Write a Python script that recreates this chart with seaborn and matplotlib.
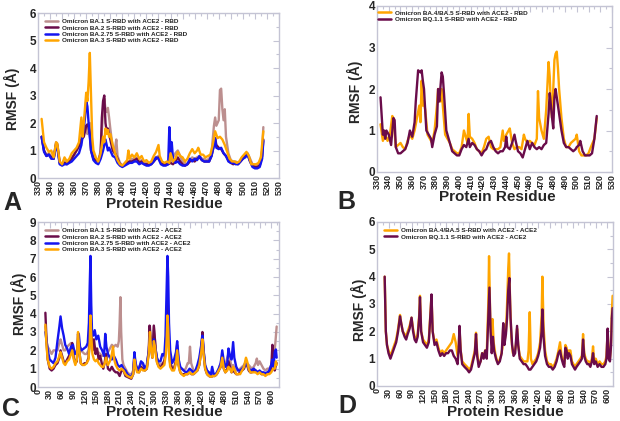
import numpy as np
import pandas as pd
import seaborn as sns
import matplotlib
matplotlib.use("Agg")
import matplotlib.pyplot as plt
from matplotlib.ticker import MultipleLocator
from matplotlib.lines import Line2D

sns.set_theme(style="white")
plt.rcParams['font.family'] = ['Liberation Sans', 'DejaVu Sans']
plt.rcParams['font.weight'] = 'bold'

# ---------------- Panel A : RBD (residue, RMSF) ----------------
A_BA1 = [(333,1.5),(335,1.0),(337,0.85),(339,0.9),(341,0.8),(343,0.7),(345,1.3),(346,1.25),(348,0.55),(350,0.5),
         (352,0.6),(354,0.55),(356,0.65),(358,0.75),(360,0.85),(362,1.0),(364,1.2),(366,1.5),(368,1.6),(370,1.9),
         (371,1.6),(372,1.8),(373,2.0),(374,1.4),(376,0.8),(378,0.7),(380,0.6),(382,1.0),(384,2.4),(385,2.9),
         (386,2.5),(387,2.4),(388,2.55),(389,2.2),(390,1.8),(392,1.1),(393,0.9),(394,1.1),(395,1.4),(396,0.8),
         (398,0.55),(400,0.45),(402,0.5),(404,0.6),(406,0.6),(408,0.7),(410,0.7),(412,0.75),(414,0.6),(416,0.65),
         (418,0.55),(420,0.55),(422,0.5),(424,0.55),(426,0.7),(428,0.75),(430,0.8),(432,0.6),(434,0.55),(436,0.5),
         (438,0.55),(440,0.6),(442,0.75),(444,0.9),(446,1.0),(448,0.8),(450,0.6),(452,0.55),(454,0.5),(456,0.65),
         (458,0.75),(460,0.7),(462,0.75),(464,0.8),(466,0.7),(468,0.7),(470,0.65),(472,0.7),(474,0.9),(476,1.9),
         (477,2.2),(478,1.9),(480,2.1),(481,3.2),(482,3.25),(483,2.5),(484,2.1),(485,2.5),(486,1.5),(488,0.9),
         (490,0.65),(492,0.6),(494,0.6),(496,0.55),(498,0.6),(500,0.75),(502,0.85),(504,0.9),(506,0.7),(508,0.5),
         (510,0.45),(512,0.45),(514,0.5),(516,1.0),(517,1.85)]
A_BA2 = [(333,1.5),(335,1.0),(337,0.8),(339,0.85),(341,0.75),(343,0.7),(345,1.25),(346,1.2),(348,0.55),(350,0.5),
         (352,0.55),(354,0.5),(356,0.6),(358,0.7),(360,0.85),(362,1.0),(364,1.15),(366,1.4),(368,1.5),(370,1.9),
         (371,1.95),(372,1.85),(373,1.6),(374,1.0),(376,0.7),(378,0.65),(380,0.6),(382,0.9),(383,2.2),(384,2.8),
         (385,3.0),(386,2.0),(387,1.7),(388,1.8),(389,1.6),(390,1.4),(392,1.0),(394,0.9),(396,0.7),(398,0.5),
         (400,0.45),(402,0.5),(404,0.55),(406,0.6),(408,0.6),(410,0.65),(412,0.7),(414,0.55),(416,0.6),(418,0.5),
         (420,0.5),(422,0.5),(424,0.5),(426,0.6),(428,0.7),(430,0.75),(432,0.55),(434,0.5),(436,0.5),(438,0.5),
         (440,0.55),(442,0.5),(444,0.6),(446,0.75),(448,0.6),(450,0.5),(452,0.45),(454,0.5),(456,0.6),(458,0.65),
         (460,0.6),(462,0.7),(464,0.75),(466,0.65),(468,0.6),(470,0.6),(472,0.6),(474,0.8),(476,1.2),(477,1.45),
         (478,1.2),(480,1.1),(482,1.05),(484,0.9),(486,0.8),(488,0.65),(490,0.55),(492,0.5),(494,0.55),(496,0.5),
         (498,0.6),(500,0.7),(502,0.8),(504,0.85),(506,0.6),(508,0.45),(510,0.4),(512,0.4),(514,0.45),(516,0.8),(517,1.4)]
A_BA275 = [(333,1.5),(335,0.95),(337,0.8),(339,0.85),(341,0.7),(343,0.7),(345,1.2),(346,1.1),(348,0.5),(350,0.45),
           (352,0.5),(354,0.5),(356,0.55),(358,0.6),(360,0.7),(362,0.8),(364,0.9),(366,1.2),(368,1.8),(369,2.2),
           (370,2.8),(371,2.6),(372,2.0),(373,1.5),(374,1.0),(376,0.65),(378,0.55),(380,0.5),(382,0.7),(384,1.0),
           (386,1.4),(387,1.2),(388,1.0),(389,1.1),(390,1.0),(392,0.8),(394,0.75),(396,0.55),(398,0.45),(400,0.4),
           (402,0.45),(404,0.5),(406,0.55),(408,0.55),(410,0.6),(412,0.6),(414,0.5),(416,0.55),(418,0.5),(420,0.45),
           (422,0.45),(424,0.5),(426,0.6),(428,0.75),(430,0.7),(432,0.5),(434,0.45),(436,0.45),(438,0.5),(439,1.85),
           (440,0.9),(441,1.3),(442,0.7),(444,0.55),(446,0.6),(448,0.5),(450,0.45),(452,0.45),(454,0.5),(456,0.7),
           (458,0.6),(460,0.7),(462,0.65),(464,0.8),(466,0.65),(468,0.6),(470,0.6),(472,0.6),(474,0.8),(476,1.2),
           (477,1.45),(478,1.1),(480,1.05),(482,1.1),(484,0.9),(486,0.8),(488,0.6),(490,0.55),(492,0.55),(494,0.5),
           (496,0.5),(498,0.6),(500,0.7),(502,0.75),(504,0.85),(506,0.6),(508,0.4),(510,0.35),(512,0.35),(514,0.4),
           (516,0.7),(517,1.35)]
A_BA3 = [(333,2.15),(335,1.3),(337,1.1),(339,0.95),(341,1.0),(343,0.75),(345,1.3),(346,1.25),(348,0.6),(350,0.5),
         (352,0.75),(354,0.6),(356,0.7),(358,0.9),(360,1.0),(362,1.1),(364,1.3),(366,2.2),(367,1.5),(368,2.0),
         (370,3.1),(371,2.8),(372,3.5),(373,4.55),(374,3.0),(375,1.5),(376,1.0),(378,0.75),(380,0.6),(382,0.9),
         (384,1.5),(385,1.3),(386,1.8),(387,1.6),(388,1.75),(389,1.5),(390,1.6),(392,1.2),(394,0.9),(396,0.65),
         (398,0.5),(400,0.45),(402,0.55),(404,0.65),(405,1.0),(406,0.7),(408,0.85),(410,0.75),(412,0.9),(414,0.7),
         (416,0.8),(418,0.6),(420,0.65),(422,0.55),(424,0.6),(426,0.8),(428,0.95),(430,1.2),(431,0.8),(433,0.6),
         (435,0.55),(437,0.6),(439,0.55),(440,0.9),(442,0.6),(444,0.7),(446,0.95),(448,0.8),(450,0.75),(452,0.6),
         (454,0.7),(456,0.9),(458,1.05),(460,0.9),(462,1.0),(463,1.1),(465,0.85),(467,0.85),(469,0.75),(471,0.8),
         (473,0.85),(475,1.2),(477,1.7),(479,1.45),(481,1.5),(483,1.4),(485,1.2),(487,0.95),(489,0.7),(491,0.6),
         (493,0.6),(495,0.55),(497,0.6),(499,0.75),(501,0.85),(503,0.95),(505,0.8),(507,0.5),(509,0.5),(511,0.5),
         (513,0.55),(515,0.75),(517,1.7)]

# ---------------- Panel B : RBD ----------------
B_BA45 = [(333,1.15),(335,0.75),(337,0.9),(339,0.75),(341,0.9),(343,1.35),(344,1.3),(346,0.6),(348,0.65),(350,0.7),
          (352,0.6),(354,0.55),(356,0.75),(358,0.9),(360,0.8),(362,1.0),(364,1.3),(366,1.6),(367,1.2),(368,2.2),
          (369,1.6),(370,1.7),(371,1.5),(373,0.9),(375,0.8),(377,0.7),(379,1.0),(381,1.6),(382,2.0),(384,1.7),
          (385,2.0),(386,1.6),(388,0.9),(390,0.8),(392,0.7),(394,0.55),(396,0.5),(398,0.45),(400,0.45),(402,0.6),
          (404,1.0),(405,0.9),(407,0.7),(408,1.4),(409,0.85),(411,0.8),(413,0.7),(415,0.55),(417,0.5),(419,0.45),
          (421,0.6),(423,0.8),(425,0.85),(427,0.6),(429,0.55),(431,0.55),(433,0.55),(435,0.6),(437,1.0),(438,0.75),
          (440,0.9),(442,1.0),(443,1.05),(445,0.7),(447,0.55),(449,0.6),(451,0.6),(453,0.55),(455,0.9),(456,0.8),
          (458,0.7),(460,0.75),(462,0.7),(464,0.65),(466,0.8),(467,1.95),(468,1.3),(470,1.0),(472,0.8),(474,1.5),
          (476,2.65),(477,2.3),(478,1.6),(479,1.3),(480,2.0),(481,2.7),(482,2.85),(483,2.9),(484,2.5),(485,2.0),
          (487,1.3),(489,0.8),(491,0.6),(493,0.6),(495,0.7),(497,0.75),(499,0.8),(500,0.9),(502,0.5),(504,0.4),
          (506,0.4),(508,0.4),(510,0.45),(512,0.6),(515,0.8),(517,1.3)]
B_BQ11 = [(333,1.8),(335,0.9),(336,1.0),(337,0.8),(338,1.0),(340,0.9),(342,0.65),(344,1.3),(345,1.25),(346,0.6),
          (348,0.45),(350,0.45),(352,0.5),(354,0.55),(356,0.7),(358,1.0),(360,0.85),(362,1.2),(363,1.7),(365,2.45),
          (367,2.4),(368,2.45),(369,2.2),(370,2.0),(372,1.0),(374,0.9),(376,0.8),(377,0.6),(379,0.9),(381,1.1),
          (382,2.0),(383,1.7),(385,2.4),(386,2.3),(387,1.9),(389,1.0),(391,0.8),(393,0.6),(394,0.5),(396,0.45),
          (398,0.4),(400,0.4),(402,0.55),(404,0.65),(406,0.6),(408,0.8),(409,0.6),(411,0.7),(413,0.65),(415,0.55),
          (417,0.5),(419,0.4),(421,0.5),(423,0.55),(425,0.7),(427,0.75),(429,0.6),(431,0.5),(433,0.45),(435,0.5),
          (437,0.5),(439,0.6),(440,0.85),(441,0.6),(443,0.55),(445,0.7),(447,0.9),(448,0.75),(450,0.5),(452,0.45),
          (454,0.35),(456,0.55),(458,0.75),(460,0.55),(462,0.7),(464,0.6),(466,0.55),(468,0.6),(470,0.55),(472,0.65),
          (474,0.7),(476,1.4),(477,1.9),(478,1.6),(479,1.3),(480,1.05),(481,1.8),(482,2.0),(483,1.8),(485,1.4),
          (487,1.0),(489,0.7),(491,0.6),(493,0.6),(495,0.55),(497,0.5),(499,0.55),(500,0.6),(502,0.65),(503,0.75),
          (505,0.5),(507,0.4),(509,0.4),(511,0.4),(513,0.45),(515,0.8),(517,1.35)]

# ---------------- Panel C : ACE2 ----------------
C_BA1 = [(19,3.3),(22,2.5),(25,2.2),(30,2.0),(35,1.8),(40,2.0),(45,2.0),(50,2.0),(55,2.4),(58,2.6),(62,2.3),(66,2.0),
         (70,2.0),(75,2.2),(80,2.3),(85,2.4),(90,2.0),(95,1.8),(100,2.0),(105,2.4),(110,2.0),(115,1.9),(120,1.8),
         (125,1.8),(130,2.0),(133,2.6),(135,3.2),(138,2.5),(142,2.0),(146,2.2),(150,2.0),(155,1.9),(160,1.8),(165,1.7),
         (170,1.7),(175,1.6),(180,1.9),(185,2.1),(190,2.3),(195,2.2),(200,2.3),(205,2.2),(208,2.5),(210,3.5),(212,4.9),
         (214,3.0),(217,1.5),(220,1.2),(225,1.0),(230,0.8),(235,0.7),(240,0.7),(245,0.9),(248,1.6),(251,1.2),(255,1.0),
         (260,1.1),(265,1.3),(270,1.2),(275,1.0),(280,1.1),(285,2.0),(288,3.3),(292,2.2),(296,2.0),(298,3.3),(301,2.5),
         (305,1.5),(310,1.3),(315,1.2),(320,1.3),(325,1.3),(328,2.0),(331,3.2),(333,3.8),(335,3.3),(337,2.0),(340,1.3),
         (345,1.1),(350,1.0),(355,1.5),(358,2.0),(362,1.2),(366,1.0),(370,1.0),(375,0.9),(380,1.0),(385,1.3),(388,1.3),
         (391,2.2),(394,1.3),(400,0.9),(405,0.9),(410,1.0),(415,1.4),(420,2.2),(423,2.7),(426,1.8),(430,1.1),(435,0.8),
         (440,0.7),(445,0.6),(450,0.7),(455,0.7),(460,0.8),(465,1.0),(470,1.3),(474,1.7),(478,1.2),(482,1.2),(487,1.6),
         (490,1.8),(494,1.5),(498,1.1),(502,1.2),(506,1.0),(510,0.9),(515,0.9),(520,1.0),(525,1.1),(530,1.2),(535,1.4),
         (538,1.3),(542,1.2),(546,1.1),(550,1.0),(555,1.1),(560,1.3),(563,1.55),(566,1.2),(570,1.4),(575,1.2),(580,1.0),
         (585,0.9),(590,1.0),(595,1.0),(600,1.2),(605,1.3),(608,1.8),(611,2.5),(614,3.3)]
C_BA2 = [(19,4.05),(22,2.5),(25,1.5),(30,1.0),(35,0.9),(40,1.0),(45,1.2),(50,1.3),(55,1.6),(58,2.0),(62,1.7),(66,1.4),
         (70,1.3),(75,1.5),(80,1.7),(85,1.9),(88,2.4),(92,1.6),(96,1.3),(100,1.4),(103,2.9),(106,2.0),(110,1.3),
         (115,1.2),(120,1.3),(125,1.3),(130,1.6),(133,2.5),(135,4.05),(137,3.0),(140,2.0),(144,2.6),(148,1.8),(152,2.1),
         (156,1.5),(160,1.7),(164,1.3),(168,1.0),(172,1.4),(175,1.8),(180,1.0),(185,0.9),(190,1.1),(195,0.9),(200,0.8),
         (205,0.8),(210,0.6),(215,0.9),(220,0.9),(225,0.6),(230,0.55),(235,0.5),(240,0.45),(245,0.7),(248,1.75),
         (251,1.2),(255,0.9),(260,0.8),(265,1.1),(270,1.0),(275,0.9),(280,1.0),(285,2.0),(287,3.35),(290,2.4),(294,1.6),
         (298,3.35),(300,2.8),(303,2.0),(307,1.3),(312,1.1),(317,1.1),(322,1.3),(326,1.5),(329,2.2),(331,3.5),(333,5.0),
         (335,4.0),(337,2.2),(340,1.3),(345,1.0),(350,1.0),(355,1.4),(358,2.3),(362,1.2),(366,0.8),(370,0.7),(375,0.7),
         (380,0.7),(385,0.7),(390,0.8),(395,0.7),(400,0.7),(405,0.8),(410,0.9),(415,1.2),(420,2.0),(423,3.0),(426,2.0),
         (430,1.0),(435,0.7),(440,0.6),(445,0.55),(450,0.6),(455,0.6),(460,0.7),(465,0.9),(470,1.1),(474,1.5),(478,1.0),
         (482,0.8),(487,1.0),(490,1.4),(494,1.1),(498,0.8),(502,0.9),(506,0.8),(510,0.7),(515,0.7),(520,0.8),(525,0.9),
         (530,1.0),(535,1.3),(538,1.2),(542,0.9),(546,0.8),(550,0.8),(555,0.9),(560,0.9),(565,0.8),(570,0.8),(575,0.7),
         (580,0.7),(585,0.7),(590,0.7),(595,0.8),(600,1.0),(603,2.3),(606,1.3),(609,0.9),(612,1.2),(614,1.3)]
C_BA275 = [(19,3.0),(25,2.0),(30,1.5),(40,1.3),(45,1.6),(50,2.5),(55,3.3),(58,3.85),(62,3.2),(66,2.8),(70,2.3),
           (75,2.1),(80,1.8),(85,2.2),(90,2.3),(95,1.8),(100,1.9),(105,2.9),(108,2.2),(112,2.0),(118,2.1),(124,2.2),
           (128,2.4),(131,3.5),(133,5.5),(135,7.15),(137,4.5),(139,3.0),(142,2.8),(146,3.1),(150,2.6),(155,2.8),
           (160,2.2),(165,2.0),(170,1.7),(173,2.9),(176,2.2),(180,1.8),(185,1.6),(190,1.5),(195,1.7),(200,1.5),
           (205,1.2),(210,1.1),(215,1.2),(220,1.0),(225,0.9),(230,0.7),(235,0.6),(240,0.55),(245,0.8),(248,1.9),
           (251,1.3),(255,1.0),(260,1.0),(265,1.4),(270,1.3),(275,1.0),(280,1.2),(285,2.0),(288,2.8),(292,2.0),
           (295,2.2),(298,2.6),(302,2.1),(306,1.6),(310,1.4),(315,1.4),(320,1.8),(325,1.7),(328,2.8),(331,5.5),
           (333,7.15),(335,6.0),(337,3.5),(340,2.0),(345,1.3),(350,1.5),(355,1.9),(358,2.5),(362,1.5),(366,1.1),
           (370,1.0),(375,0.9),(380,0.8),(385,0.85),(390,1.0),(395,0.9),(400,0.8),(405,0.9),(410,1.2),(415,1.6),
           (420,2.3),(423,2.8),(426,2.0),(430,1.2),(435,0.9),(440,0.8),(445,0.7),(448,1.1),(452,0.7),(458,0.7),
           (465,1.0),(470,1.3),(474,2.0),(478,1.4),(482,1.1),(487,1.3),(490,2.1),(494,1.7),(498,1.5),(502,2.45),
           (505,1.6),(510,1.1),(515,0.9),(520,0.9),(525,1.0),(530,1.1),(535,1.4),(538,1.2),(542,1.0),(548,0.9),
           (555,1.0),(560,0.9),(565,0.8),(570,0.9),(575,0.8),(580,0.8),(585,0.75),(590,0.8),(595,0.9),(600,1.2),
           (603,1.5),(606,1.1),(609,1.9),(612,2.05),(614,1.6)]
C_BA3 = [(19,3.4),(22,2.2),(25,1.5),(30,1.1),(35,1.0),(40,1.1),(45,1.3),(50,1.4),(55,1.7),(58,1.9),(62,1.6),(66,1.3),
         (70,1.2),(75,1.4),(80,1.5),(85,1.8),(88,2.0),(92,1.5),(96,1.2),(100,1.5),(103,3.0),(106,2.0),(110,1.3),
         (115,1.2),(120,1.2),(125,1.3),(130,1.5),(133,2.4),(135,3.9),(137,2.8),(140,1.8),(144,1.5),(148,1.4),(152,1.5),
         (156,1.3),(160,1.2),(164,1.1),(168,1.1),(172,1.3),(175,1.6),(180,1.2),(185,1.4),(190,1.8),(193,2.2),(196,1.5),
         (200,1.2),(205,1.0),(210,0.9),(215,1.0),(220,0.9),(225,0.7),(230,0.6),(235,0.55),(240,0.5),(245,0.7),
         (248,1.5),(251,1.1),(255,0.8),(260,0.8),(265,1.0),(270,0.9),(275,0.9),(280,1.0),(285,1.8),(288,3.0),
         (291,2.0),(295,1.6),(298,2.5),(301,2.2),(305,1.4),(310,1.1),(315,1.0),(320,1.1),(325,1.2),(329,1.8),
         (331,2.6),(333,3.9),(335,3.2),(337,1.8),(340,1.1),(345,0.9),(350,0.9),(355,1.3),(358,2.0),(362,1.1),
         (366,0.8),(370,0.7),(375,0.6),(380,0.7),(385,0.7),(390,0.8),(395,0.7),(400,0.7),(405,0.8),(410,0.9),
         (415,1.2),(420,1.9),(423,2.6),(426,1.8),(430,1.0),(435,0.7),(440,0.6),(445,0.55),(450,0.6),(455,0.6),
         (460,0.7),(465,0.9),(470,1.1),(474,1.6),(478,1.0),(482,0.8),(487,0.9),(490,1.1),(494,1.0),(498,0.8),
         (502,1.1),(506,0.9),(510,0.7),(515,0.7),(520,0.7),(525,0.9),(530,1.1),(535,1.6),(538,1.4),(542,1.0),
         (546,0.8),(550,0.8),(555,0.8),(560,0.8),(565,0.7),(570,0.8),(575,0.7),(580,0.7),(585,0.6),(590,0.7),
         (595,0.7),(600,0.8),(605,1.0),(609,1.0),(612,1.4),(614,1.2)]

# ---------------- Panel D : ACE2 ----------------
D_BA45 = [(20,4.0),(23,2.0),(26,1.5),(30,1.3),(35,1.1),(40,1.3),(45,1.5),(50,1.7),(55,2.1),(60,2.6),(63,2.3),(67,2.0),
          (72,1.9),(76,1.8),(80,2.0),(85,2.2),(90,2.5),(94,2.1),(98,1.8),(102,1.7),(106,1.9),(110,2.6),(112,3.3),
          (115,2.0),(120,1.7),(125,1.6),(130,1.5),(135,1.7),(140,2.8),(142,3.3),(145,2.0),(150,1.6),(155,1.7),(160,1.4),
          (165,1.2),(170,1.3),(175,1.2),(180,1.3),(185,1.4),(190,1.5),(195,1.6),(200,1.9),(205,1.6),(210,1.1),(213,1.5),
          (215,2.1),(218,1.3),(222,0.9),(228,0.8),(235,0.7),(240,0.6),(245,0.7),(250,1.0),(255,1.3),(258,1.95),
          (261,1.2),(265,0.8),(270,0.9),(274,1.2),(278,1.1),(282,1.3),(286,1.2),(290,3.0),(292,4.75),(295,2.5),
          (298,1.8),(301,2.45),(304,1.6),(308,1.2),(313,0.9),(318,0.9),(323,1.1),(327,1.4),(329,2.25),(332,1.6),
          (336,2.0),(339,3.0),(342,4.3),(344,4.85),(347,3.0),(350,1.8),(354,1.2),(358,1.2),(362,1.5),(365,2.1),
          (368,1.5),(372,1.1),(377,1.0),(382,0.9),(387,0.9),(392,0.9),(395,1.3),(398,2.7),(401,1.0),(405,0.8),
          (410,0.9),(415,1.0),(420,1.2),(425,1.6),(429,2.6),(431,4.0),(434,2.2),(438,1.3),(443,0.9),(448,0.8),
          (453,0.8),(458,0.7),(463,0.8),(468,1.0),(473,1.3),(477,1.6),(481,1.1),(485,0.9),(488,0.8),(491,1.5),
          (494,1.4),(497,1.1),(500,1.3),(504,1.3),(508,0.9),(512,0.8),(516,0.7),(520,0.8),(525,0.9),(530,1.0),
          (534,1.1),(537,1.9),(540,1.2),(544,1.0),(548,0.9),(552,0.9),(556,0.8),(560,1.0),(563,1.45),(566,0.9),
          (570,1.0),(575,0.8),(580,0.9),(585,0.8),(590,0.8),(595,0.9),(598,1.1),(601,2.0),(604,1.1),(607,1.0),
          (610,1.6),(612,2.7),(614,3.3)]
D_BQ11 = [(20,4.0),(23,2.0),(26,1.5),(30,1.2),(35,1.0),(40,1.2),(45,1.4),(50,1.6),(55,2.0),(60,2.55),(63,2.3),(67,2.0),
          (72,1.8),(76,1.7),(80,1.9),(85,2.1),(90,2.5),(94,2.0),(98,1.7),(102,1.6),(106,1.8),(110,2.5),(112,3.25),
          (115,2.0),(120,1.6),(125,1.5),(130,1.4),(135,1.6),(140,2.8),(142,3.35),(145,2.0),(150,1.5),(155,1.6),
          (160,1.3),(165,1.1),(170,1.2),(175,1.1),(180,1.2),(185,1.2),(190,1.3),(195,1.3),(200,1.1),(205,1.0),
          (210,0.8),(213,1.4),(215,2.2),(218,1.3),(222,0.8),(228,0.7),(235,0.6),(240,0.5),(245,0.6),(250,0.9),
          (255,1.2),(258,1.9),(261,1.1),(265,0.7),(270,0.9),(274,1.2),(278,1.0),(282,1.3),(286,1.0),(290,2.5),
          (293,3.6),(296,2.0),(299,1.2),(302,1.8),(305,1.3),(310,1.0),(315,0.8),(320,0.9),(325,1.2),(329,2.3),
          (332,1.5),(336,1.9),(339,2.5),(342,3.5),(345,3.95),(348,2.5),(352,1.5),(356,1.1),(360,1.2),(365,2.2),
          (368,1.5),(372,1.0),(377,0.9),(382,0.8),(387,0.8),(392,0.7),(396,0.6),(400,0.6),(405,0.7),(410,0.8),
          (415,0.9),(420,1.1),(425,1.4),(429,2.0),(431,2.8),(434,1.8),(438,1.1),(443,0.8),(448,0.7),(453,0.7),
          (458,0.6),(463,0.7),(468,0.9),(473,1.2),(477,1.3),(481,1.0),(485,0.8),(488,0.7),(491,1.4),(494,1.3),
          (497,1.0),(500,1.2),(504,1.1),(508,0.8),(512,0.7),(516,0.6),(520,0.7),(525,0.8),(530,0.9),(534,1.0),
          (537,1.7),(540,1.1),(544,0.9),(548,0.8),(552,0.8),(556,0.7),(560,0.9),(563,1.2),(566,0.8),(570,0.9),
          (575,0.7),(580,0.8),(585,0.7),(590,0.7),(595,0.8),(598,1.0),(601,2.1),(604,1.0),(607,0.9),(610,1.5),
          (612,2.5),(614,2.85)]

LABELS_A = ["Omicron BA.1 S-RBD with ACE2 - RBD", "Omicron BA.2 S-RBD with ACE2 - RBD",
            "Omicron BA.2.75 S-RBD with ACE2 - RBD", "Omicron BA.3 S-RBD with ACE2 - RBD"]
LABELS_B = ["Omicron BA.4/BA.5 S-RBD with ACE2 - RBD", "Omicron BQ.1.1 S-RBD with ACE2 - RBD"]
LABELS_C = ["Omicron BA.1 S-RBD with ACE2 - ACE2", "Omicron BA.2 S-RBD with ACE2 - ACE2",
            "Omicron BA.2.75 S-RBD with ACE2 - ACE2", "Omicron BA.3 S-RBD with ACE2 - ACE2"]
LABELS_D = ["Omicron BA.4/BA.5 S-RBD with ACE2 - ACE2", "Omicron BQ.1.1 S-RBD with ACE2 - ACE2"]

PINK, MAROON, BLUE, ORANGE = "#bc8f8f", "#6a0c4a", "#1414f0", "#ffa500"

W, H = 620, 421
fig = plt.figure(figsize=(W / 100, H / 100), dpi=100)
FRAME = "#c4c4d4"


def px_rect(l, t, r, b):
    return [l / W, 1 - b / H, (r - l) / W, (b - t) / H]


def panel(rect, series, labels, colors, xlim, ylim, xmaj, xmin, xticks_max, leg_xy):
    ax = fig.add_axes(rect)
    frames = []
    for lab, pts in zip(labels, series):
        x, y = zip(*pts)
        frames.append(pd.DataFrame({"Residue": x, "RMSF": y, "Variant": lab}))
    df = pd.concat(frames, ignore_index=True)
    sns.lineplot(data=df, x="Residue", y="RMSF", hue="Variant", hue_order=labels,
                 palette=dict(zip(labels, colors)), estimator=None, linewidth=1.7,
                 ax=ax, legend=False)
    ax.set_xlim(*xlim)
    ax.set_ylim(*ylim)
    ax.set_xticks(np.arange(xlim[0], xticks_max + 1, xmaj))
    ax.xaxis.set_minor_locator(MultipleLocator(xmin))
    ax.yaxis.set_major_locator(MultipleLocator(1))
    ax.yaxis.set_minor_locator(MultipleLocator(0.5))
    ax.set_xlabel("")
    ax.set_ylabel("")
    for s in ax.spines.values():
        s.set_color(FRAME)
        s.set_linewidth(1.0)
    ax.tick_params(which="both", direction="in", top=True, right=True, color=FRAME, width=0.8)
    ax.tick_params(which="major", length=4)
    ax.tick_params(which="minor", length=2)
    ax.tick_params(axis="x", labelsize=6.5, labelrotation=90, pad=1.5)
    ax.tick_params(axis="y", labelsize=8.5, pad=1.5)
    for t in ax.get_xticklabels() + ax.get_yticklabels():
        t.set_fontweight("bold")
    handles = [Line2D([], [], color=c, lw=1.8) for c in colors]
    ax.legend(handles, labels, loc="upper left", bbox_to_anchor=leg_xy, frameon=False,
              prop={"size": 4.6, "weight": "bold"}, handlelength=2.0, handletextpad=0.6,
              labelspacing=0.14, borderpad=0, borderaxespad=0)
    return ax


panel(px_rect(38, 13, 279, 178), [A_BA1, A_BA2, A_BA275, A_BA3], LABELS_A,
      [PINK, MAROON, BLUE, ORANGE], (330, 530), (0, 6), 10, 5, 530, (0.03, 0.965))
panel(px_rect(377, 6, 612, 172), [B_BA45, B_BQ11], LABELS_B,
      [ORANGE, MAROON], (330, 530), (0, 4), 10, 5, 530, (0.005, 0.975))
panel(px_rect(38, 222, 279, 387), [C_BA1, C_BA2, C_BA275, C_BA3], LABELS_C,
      [PINK, MAROON, BLUE, ORANGE], (0, 620), (0, 9), 30, 15, 600, (0.03, 0.965))
panel(px_rect(377, 222, 613, 386), [D_BA45, D_BQ11], LABELS_D,
      [ORANGE, MAROON], (0, 615), (0, 6), 30, 15, 600, (0.03, 0.965))


def ftext(x, y, s, **kw):
    fig.text(x / W, 1 - y / H, s, ha="center", va="center", fontweight="bold", **kw)


for (x, y) in [(12, 99), (355, 92), (19, 304), (359, 310)]:
    ftext(x, y, "RMSF (Å)", fontsize=10, rotation=90)
for (x, y) in [(164, 204), (497, 197), (164, 412), (505, 412)]:
    ftext(x, y, "Protein Residue", fontsize=11)
for (x, y, s) in [(12, 203, "A"), (346, 202, "B"), (11, 409, "C"), (347, 406, "D")]:
    ftext(x, y, s, fontsize=18)

fig.savefig("out.png", dpi=100)
